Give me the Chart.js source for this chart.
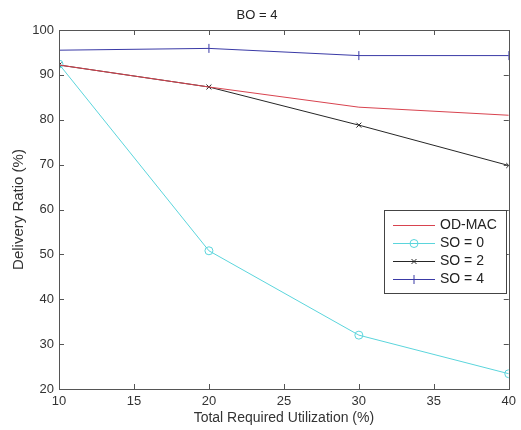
<!DOCTYPE html>
<html>
<head>
<meta charset="utf-8">
<script src="https://cdn.jsdelivr.net/npm/chart.js@4/dist/chart.umd.min.js"></script>
<style>
  html, body { margin: 0; padding: 0; background: #fff; }
  #wrap { width: 521px; height: 430px; }
</style>
</head>
<body>
<div id="wrap"><canvas id="c" width="521" height="430"></canvas></div>
<script>
const utilization = [10, 20, 30, 40];
const odMac = [92.2, 87.3, 82.8, 81.0];
const so0 = [92.4, 50.8, 32.0, 23.4];
const so2 = [92.2, 87.3, 78.8, 69.8];
const so4 = [95.5, 95.9, 94.3, 94.3];
const seriesLabels = ['OD-MAC', 'SO = 0', 'SO = 2', 'SO = 4'];
const xTicks = [10, 15, 20, 25, 30, 35, 40];
const yTicks = [20, 30, 40, 50, 60, 70, 80, 90, 100];

const FONT = "'Liberation Sans', Arial, Helvetica, sans-serif";
const pts = arr => utilization.map((x, i) => ({ x: x, y: arr[i] }));

const colors = ['#d8434f', '#5bd5dc', '#262626', '#3a3aa6'];
const styles = [false, 'circle', 'crossRot', 'line'];
const radii = [0, 4, 3.5, 4.5];
const rots = [0, 0, 0, 90];
const values = [odMac, so0, so2, so4];

const datasets = values.map((v, i) => ({
  label: seriesLabels[i],
  data: pts(v),
  borderColor: colors[i],
  backgroundColor: 'rgba(0,0,0,0)',
  borderWidth: 1,
  pointStyle: styles[i],
  pointRadius: radii[i],
  pointRotation: rots[i],
  pointBorderColor: colors[i],
  pointBorderWidth: 1,
  pointBackgroundColor: 'rgba(0,0,0,0)',
  tension: 0,
  fill: false
}));

const framePlugin = {
  id: 'frame',
  afterDatasetsDraw(chart) {
    const ctx = chart.ctx;
    const a = chart.chartArea;
    const xs = chart.scales.x, ys = chart.scales.y;
    ctx.save();
    ctx.strokeStyle = '#555';
    ctx.lineWidth = 1;
    ctx.strokeRect(Math.round(a.left) + 0.5, Math.round(a.top) + 0.5,
                   Math.round(a.right - a.left), Math.round(a.bottom - a.top));
    const L = 5;
    ctx.beginPath();
    xTicks.forEach(t => {
      const px = Math.round(xs.getPixelForValue(t)) + 0.5;
      ctx.moveTo(px, a.bottom); ctx.lineTo(px, a.bottom - L);
      ctx.moveTo(px, a.top); ctx.lineTo(px, a.top + L);
    });
    yTicks.forEach(t => {
      const py = Math.round(ys.getPixelForValue(t)) + 0.5;
      ctx.moveTo(a.left, py); ctx.lineTo(a.left + L, py);
      ctx.moveTo(a.right, py); ctx.lineTo(a.right - L, py);
    });
    ctx.stroke();

    // legend box
    const bx = 384.5, by = 210.5, bw = 122, bh = 83;
    ctx.fillStyle = '#fff';
    ctx.fillRect(bx, by, bw, bh);
    ctx.strokeStyle = '#444';
    ctx.strokeRect(bx, by, bw, bh);
    ctx.textBaseline = 'middle';
    ctx.textAlign = 'left';
    chart.data.datasets.forEach((ds, i) => {
      const y = 225.5 + i * 18;
      ctx.strokeStyle = ds.borderColor;
      ctx.fillStyle = 'rgba(0,0,0,0)';
      ctx.lineWidth = 1;
      ctx.beginPath();
      ctx.moveTo(393, y); ctx.lineTo(435, y);
      ctx.stroke();
      if (ds.pointStyle) {
        Chart.helpers.drawPoint(ctx, {
          pointStyle: ds.pointStyle, radius: ds.pointRadius,
          rotation: ds.pointRotation, borderWidth: 1
        }, 414, y);
      }
      ctx.font = '14px ' + FONT;
      ctx.fillStyle = '#222';
      ctx.fillText(ds.label, 440, y);
    });
    ctx.restore();
  }
};

new Chart(document.getElementById('c'), {
  type: 'line',
  data: { datasets: datasets },
  plugins: [framePlugin],
  options: {
    responsive: false,
    animation: false,
    devicePixelRatio: 1,
    layout: { padding: { left: 0, right: 7, top: 0, bottom: 0 } },
    plugins: {
      legend: { display: false },
      tooltip: { enabled: false },
      title: {
        display: true,
        text: 'BO = 4',
        color: '#222',
        font: { family: FONT, size: 13, weight: 'normal' },
        padding: { top: 8, bottom: 6.4 }
      }
    },
    scales: {
      x: {
        type: 'linear',
        min: 10, max: 40,
        afterFit(s) { s.height = 41; },
        afterBuildTicks(s) { s.ticks = xTicks.map(v => ({ value: v })); },
        grid: { display: false, drawTicks: false },
        border: { display: false },
        ticks: { color: '#333', font: { family: FONT, size: 13 }, padding: 5, maxRotation: 0 },
        title: {
          display: true,
          text: 'Total Required Utilization (%)',
          color: '#333',
          font: { family: FONT, size: 14 },
          padding: { top: 0, bottom: 3 }
        }
      },
      y: {
        type: 'linear',
        min: 20, max: 100,
        afterFit(s) { s.width = 59; },
        afterBuildTicks(s) { s.ticks = yTicks.map(v => ({ value: v })); },
        grid: { display: false, drawTicks: false },
        border: { display: false },
        ticks: { color: '#333', font: { family: FONT, size: 13 }, padding: 5 },
        title: {
          display: true,
          text: 'Delivery Ratio (%)',
          color: '#333',
          font: { family: FONT, size: 15 },
          padding: { top: 9.5, bottom: 0 }
        }
      }
    }
  }
});
</script>
</body>
</html>
